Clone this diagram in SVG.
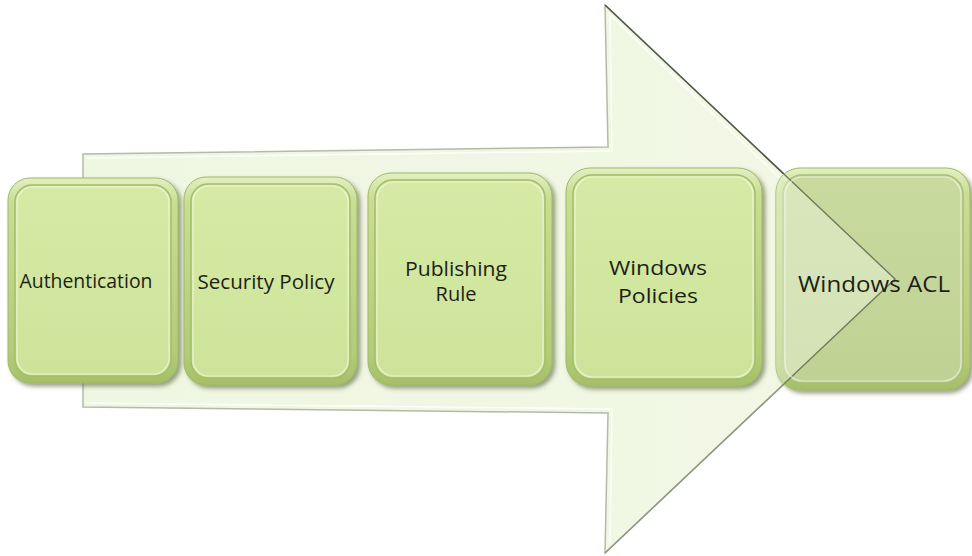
<svg xmlns="http://www.w3.org/2000/svg" width="972" height="556" viewBox="0 0 972 556">
  <defs>
    <linearGradient id="rim" x1="0" y1="0" x2="0" y2="1">
      <stop offset="0" stop-color="#e3efc2"/>
      <stop offset="0.12" stop-color="#c8de92"/>
      <stop offset="0.85" stop-color="#b3cc77"/>
      <stop offset="1" stop-color="#a5bf68"/>
    </linearGradient>
    <linearGradient id="face" x1="0" y1="0" x2="0" y2="1">
      <stop offset="0" stop-color="#d6eaa5"/>
      <stop offset="1" stop-color="#cde399"/>
    </linearGradient>
    <linearGradient id="face5" x1="0" y1="0" x2="0" y2="1">
      <stop offset="0" stop-color="#c9da9f"/>
      <stop offset="1" stop-color="#bfd293"/>
    </linearGradient>
    <linearGradient id="arrowFill" x1="0" y1="0" x2="1" y2="0">
      <stop offset="0" stop-color="#eaf3d8"/>
      <stop offset="1" stop-color="#edf5dc"/>
    </linearGradient>
    <filter id="shadow" x="-10%" y="-10%" width="125%" height="125%">
      <feDropShadow dx="3" dy="3" stdDeviation="2" flood-color="#4d5a33" flood-opacity="0.55"/>
    </filter>
    <!-- outline of the process arrow, reused for the tinted overlap on the last step -->
    <polygon id="arrowShape" points="83,154 608,147 605,5 895,279 605,553 608,413 83,407"/>
    <clipPath id="lastStepClip">
      <rect x="776" y="168" width="194" height="222" rx="24"/>
    </clipPath>
    <style>
      .rim { fill: url(#rim); stroke: #9fb964; stroke-width: 1; filter: url(#shadow); }
      .face { fill: url(#face); stroke: #a3bd69; stroke-width: 1.5; }
      .face5 { fill: url(#face5); stroke: #a9bf77; stroke-width: 1.5; }
      .hl { fill: none; stroke: #ffffff; stroke-opacity: 0.55; stroke-width: 1.2; }
      .label { font-family: "Open Sans", "Noto Sans", "Liberation Sans", sans-serif; fill: #1c1f16; text-anchor: middle; }
      .arrow { fill: url(#arrowFill); fill-opacity: 0.75; stroke: #b4baa8; stroke-width: 1.5; }
      .overlap { fill: #eef6df; fill-opacity: 0.45; stroke: #6f7b5a; stroke-width: 1.4; }
      .arrowInner { fill: none; stroke: #ffffff; stroke-opacity: 0.85; stroke-width: 1.5; }
      .edgeDark { fill: none; stroke: #4e5844; stroke-width: 1.6; }
      .edgeLow { fill: none; stroke: #8e977f; stroke-width: 1.4; }
    </style>
  </defs>

  <!-- big process arrow -->
  <g id="connectors">
    <use href="#arrowShape" class="arrow"/>
    <polyline class="arrowInner" points="87,158 612,151 610,15 885,279"/>
    <polyline class="arrowInner" points="87,403 612,409 610,543"/>
    <line class="edgeDark" x1="605" y1="5" x2="895" y2="279"/>
    <line class="edgeLow" x1="895" y1="279" x2="605" y2="553"/>
  </g>

  <g id="node-authentication">
    <rect class="rim" x="8" y="178" width="170" height="205" rx="22"/>
    <rect class="face" x="15" y="185" width="156" height="191" rx="17"/>
    <rect class="hl" x="17" y="187" width="152" height="187" rx="16"/>
    <text class="label" x="86" y="288" font-size="19.5" textLength="133" lengthAdjust="spacingAndGlyphs">Authentication</text>
  </g>

  <g id="node-security-policy">
    <rect class="rim" x="184" y="177" width="173" height="208" rx="22"/>
    <rect class="face" x="191" y="184" width="159" height="194" rx="17"/>
    <rect class="hl" x="193" y="186" width="155" height="190" rx="16"/>
    <text class="label" x="266" y="289" font-size="19.5" textLength="137" lengthAdjust="spacingAndGlyphs">Security Policy</text>
  </g>

  <g id="node-publishing-rule">
    <rect class="rim" x="368" y="173" width="184" height="212" rx="23"/>
    <rect class="face" x="375" y="180" width="170" height="198" rx="18"/>
    <rect class="hl" x="377" y="182" width="166" height="194" rx="17"/>
    <text class="label" x="456" y="276" font-size="20" textLength="102" lengthAdjust="spacingAndGlyphs">Publishing</text>
    <text class="label" x="456" y="301" font-size="20">Rule</text>
  </g>

  <g id="node-windows-policies">
    <rect class="rim" x="566" y="168" width="196" height="218" rx="24"/>
    <rect class="face" x="573" y="175" width="182" height="204" rx="19"/>
    <rect class="hl" x="575" y="177" width="178" height="200" rx="18"/>
    <text class="label" x="658" y="275" font-size="20.5" textLength="98" lengthAdjust="spacingAndGlyphs">Windows</text>
    <text class="label" x="658" y="303" font-size="20.5" textLength="80" lengthAdjust="spacingAndGlyphs">Policies</text>
  </g>

  <!-- last step: the arrow tip shows through it -->
  <g id="node-windows-acl">
    <rect class="rim" x="776" y="168" width="194" height="222" rx="24"/>
    <rect class="face5" x="783" y="175" width="180" height="208" rx="19"/>
    <use href="#arrowShape" class="overlap" clip-path="url(#lastStepClip)"/>
    <rect class="hl" x="785" y="177" width="176" height="204" rx="18"/>
    <text class="label" x="874" y="292" font-size="22" textLength="152" lengthAdjust="spacingAndGlyphs">Windows ACL</text>
  </g>
</svg>
